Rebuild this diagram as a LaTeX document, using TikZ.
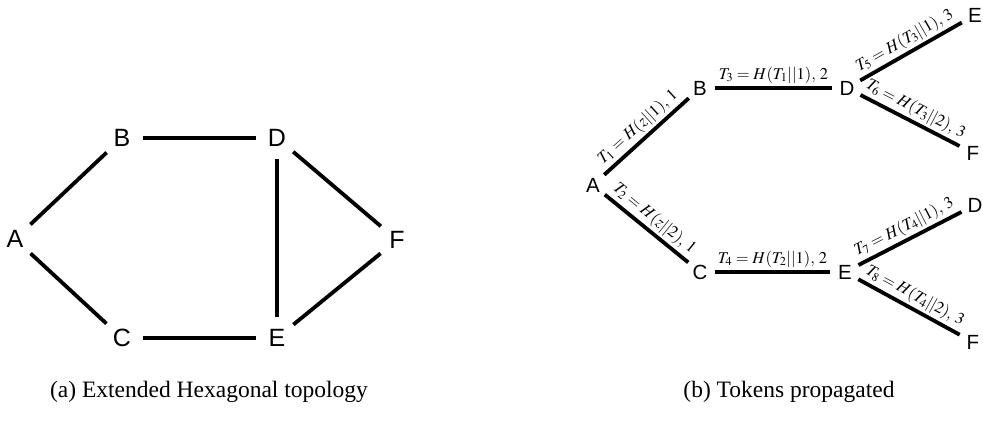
\documentclass[tikz,border=0pt]{standalone}
\usepackage{mathptmx}
\usepackage{fontspec}
\setmainfont{Liberation Serif}
\newfontfamily\lettersf{Liberation Sans}
\begin{document}
\begin{tikzpicture}[x=1pt,y=-1pt,
  gnode/.style={circle,inner sep=0pt,minimum size=42pt,font=\lettersf\fontsize{25}{25}\selectfont},
  tnode/.style={circle,inner sep=0pt,minimum size=30pt,font=\lettersf\fontsize{20.5}{20.5}\selectfont},
  link/.style={line width=3.8pt},
  tok/.style={midway,above,sloped,inner sep=2.5pt,font=\fontsize{16.5}{16.5}\selectfont},
  captext/.style={font=\fontsize{23.5}{23.5}\selectfont}]
\useasboundingbox (0,0) rectangle (983,421);
% left graph
\node[gnode] (A) at (15,239) {A};
\node[gnode] (B) at (122,138) {B};
\node[gnode] (D) at (277,138) {D};
\node[gnode] (C) at (122,338) {C};
\node[gnode] (E) at (277,338) {E};
\node[gnode] (F) at (397,240) {F};
\draw[link] (A) -- (B);
\draw[link] (B) -- (D);
\draw[link] (A) -- (C);
\draw[link] (C) -- (E);
\draw[link] (D) -- (E);
\draw[link] (D) -- (F);
\draw[link] (E) -- (F);
% right tree
\node[tnode] (tA) at (593,185) {A};
\node[tnode] (tB) at (700,88) {B};
\node[tnode] (tC) at (700,272) {C};
\node[tnode] (tD) at (847,88) {D};
\node[tnode] (tE) at (845,272) {E};
\node[tnode] (tE1) at (975,15) {E};
\node[tnode] (tF1) at (973,153) {F};
\node[tnode] (tD2) at (975,205) {D};
\node[tnode] (tF2) at (973,342) {F};
\draw[link] (tA) -- node[tok] {$T_1 = H(z||1){,}\ 1$} (tB);
\draw[link] (tA) -- node[tok] {$T_2 = H(z||2){,}\ 1$} (tC);
\draw[link] (tB) -- node[tok] {$T_3 = H(T_1||1){,}\ 2$} (tD);
\draw[link] (tC) -- node[tok] {$T_4 = H(T_2||1){,}\ 2$} (tE);
\draw[link] (tD) -- node[tok] {$T_5 = H(T_3||1){,}\ 3$} (tE1);
\draw[link] (tD) -- node[tok] {$T_6 = H(T_3||2){,}\ 3$} (tF1);
\draw[link] (tE) -- node[tok] {$T_7 = H(T_4||1){,}\ 3$} (tD2);
\draw[link] (tE) -- node[tok] {$T_8 = H(T_4||2){,}\ 3$} (tF2);
% captions
\node[captext] (capa) at (209,392) {(a) Extended Hexagonal topology};
\node[captext] (capb) at (789,392) {(b) Tokens propagated};
\end{tikzpicture}
\end{document}
